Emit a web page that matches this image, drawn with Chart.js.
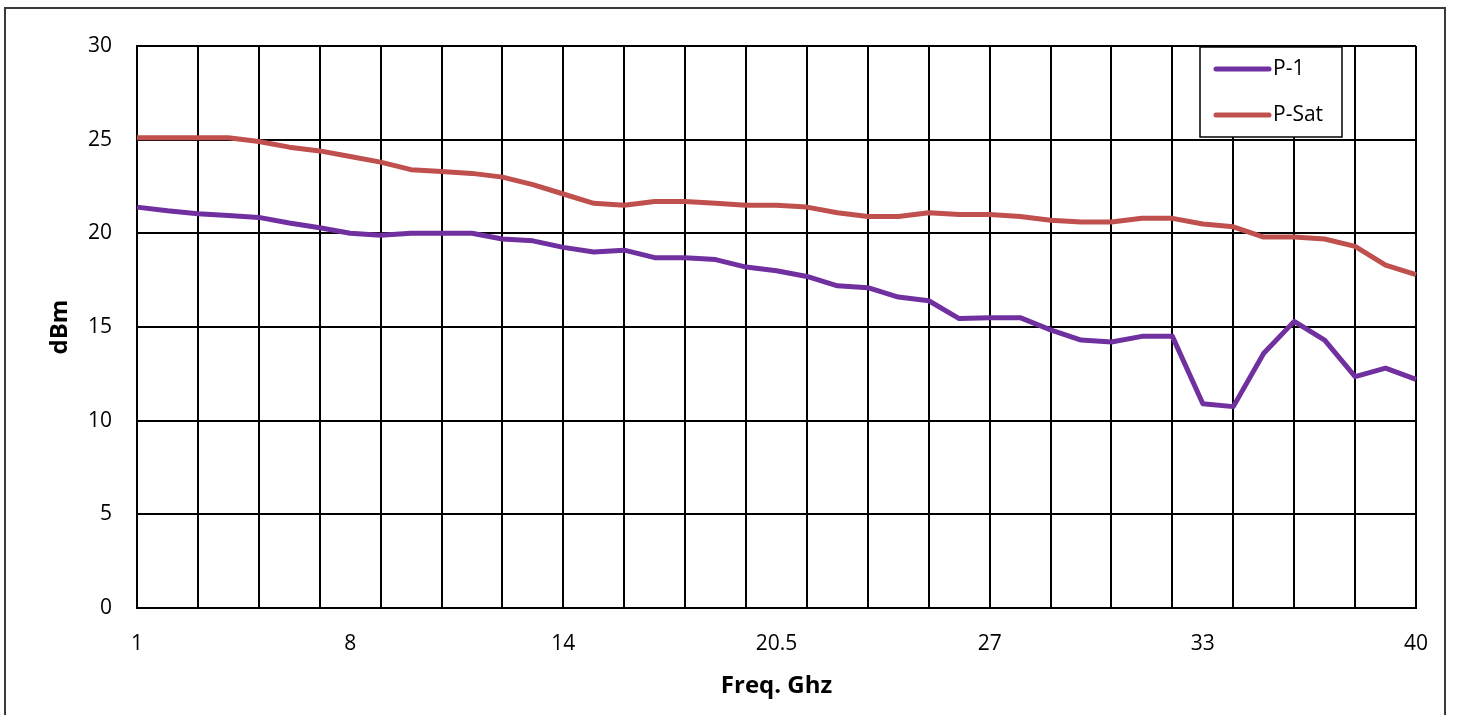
<!DOCTYPE html>
<html>
<head>
<meta charset="utf-8">
<script src="https://cdn.jsdelivr.net/npm/chart.js@4"></script>
<style>
  html, body { margin: 0; padding: 0; background: #fff; }
  #wrap { width: 1458px; height: 715px; position: relative; }
</style>
</head>
<body>
<div id="wrap"><canvas id="c" width="1458" height="715"></canvas></div>
<script>
// Frequency categories (GHz); only every 7th is labelled on the axis
const freqs = [1, 2, 3, 4, 5, 6, 7, 8, 9, 10, 11, 12, 12.5, 13, 14,
               15, 16, 17, 18, 19, 20, 20.5, 21, 22, 23, 24, 25, 26, 27,
               28, 29, 30, 31, 32, 32.5, 33, 34, 35, 36, 37, 38, 39, 40];
const p1 = [21.4, 21.2, 21.05, 20.95, 20.85, 20.55, 20.3, 20.0, 19.9, 20.0, 20.0,
            20.0, 19.7, 19.6, 19.25, 19.0, 19.1, 18.7, 18.7, 18.6, 18.2,
            18.0, 17.7, 17.2, 17.1, 16.6, 16.4, 15.45, 15.5, 15.5, 14.85,
            14.3, 14.2, 14.5, 14.5, 10.9, 10.75, 13.6, 15.3, 14.3, 12.35,
            12.8, 12.2];
const pSat = [25.1, 25.1, 25.1, 25.1, 24.9, 24.6, 24.4, 24.1, 23.8, 23.4, 23.3,
              23.2, 23.0, 22.6, 22.1, 21.6, 21.5, 21.7, 21.7, 21.6, 21.5,
              21.5, 21.4, 21.1, 20.9, 20.9, 21.1, 21.0, 21.0, 20.9, 20.7,
              20.6, 20.6, 20.8, 20.8, 20.5, 20.35, 19.8, 19.8, 19.7, 19.3,
              18.3, 17.8];
const yTicks = [0, 5, 10, 15, 20, 25, 30];
const seriesNames = ['P-1', 'P-Sat'];
const seriesColors = ['#7030A0', '#C0504D'];

Chart.defaults.font.family = '"Open Sans", sans-serif';
Chart.defaults.color = '#000';

const frame = {
  id: 'frame',
  beforeDraw(chart) {
    const ctx = chart.ctx;
    ctx.save();
    ctx.fillStyle = '#fff';
    ctx.fillRect(0, 0, chart.width, chart.height);
    ctx.strokeStyle = '#3a3a3a';
    ctx.lineWidth = 2;
    ctx.strokeRect(5, 8, 1440, 730);
    ctx.restore();
  }
};

const boxLegend = {
  id: 'boxLegend',
  afterDraw(chart) {
    const ctx = chart.ctx;
    const x0 = 1200, y0 = 47, w = 142, h = 90;
    ctx.save();
    ctx.fillStyle = '#fff';
    ctx.fillRect(x0, y0, w, h);
    ctx.strokeStyle = '#000';
    ctx.lineWidth = 1.5;
    ctx.strokeRect(x0, y0, w, h);
    ctx.font = '21px "Open Sans", sans-serif';
    ctx.textBaseline = 'middle';
    ctx.textAlign = 'left';
    chart.data.datasets.forEach((ds, i) => {
      const y = y0 + 22 + i * 46;
      ctx.strokeStyle = ds.borderColor;
      ctx.lineWidth = 5;
      ctx.lineCap = 'round';
      ctx.beginPath();
      ctx.moveTo(x0 + 16, y);
      ctx.lineTo(x0 + 69, y);
      ctx.stroke();
      ctx.fillStyle = '#000';
      ctx.fillText(ds.label, x0 + 73, y);
    });
    ctx.restore();
  }
};

new Chart(document.getElementById('c'), {
  type: 'line',
  data: {
    labels: freqs,
    datasets: [
      { label: seriesNames[0], data: p1, borderColor: seriesColors[0], backgroundColor: seriesColors[0],
        borderWidth: 5, pointRadius: 0, tension: 0, borderJoinStyle: 'round' },
      { label: seriesNames[1], data: pSat, borderColor: seriesColors[1], backgroundColor: seriesColors[1],
        borderWidth: 5, pointRadius: 0, tension: 0, borderJoinStyle: 'round' }
    ]
  },
  options: {
    responsive: false,
    animation: false,
    layout: { padding: { left: 0, top: 46, right: 42, bottom: 0 } },
    plugins: { legend: { display: false }, tooltip: { enabled: false } },
    scales: {
      x: {
        type: 'category',
        offset: false,
        grid: {
          color: (c) => (c.index % 2 === 0 ? '#000' : 'rgba(0,0,0,0)'),
          lineWidth: 2,
          drawTicks: false
        },
        border: { color: '#000', width: 2 },
        ticks: {
          autoSkip: false,
          maxRotation: 0,
          padding: 23,
          font: { size: 21 },
          callback: function (v, i) { return i % 7 === 0 ? String(freqs[i]) : ''; }
        },
        title: { display: true, text: 'Freq. Ghz', font: { size: 24, weight: 'bold' }, padding: { top: 0, bottom: 14 } },
        afterFit(s) { s.height = 107; }
      },
      y: {
        min: 0, max: 30,
        afterBuildTicks(s) { s.ticks = yTicks.map(v => ({ value: v })); },
        grid: { color: '#000', lineWidth: 2, drawTicks: false },
        border: { color: '#000', width: 2 },
        ticks: { padding: 25, font: { size: 21 } },
        title: { display: true, text: 'dBm', font: { size: 24, weight: 'bold' }, padding: { top: 46, bottom: 0 } },
        afterFit(s) { s.width = 137; }
      }
    }
  },
  plugins: [frame, boxLegend]
});
</script>
</body>
</html>
